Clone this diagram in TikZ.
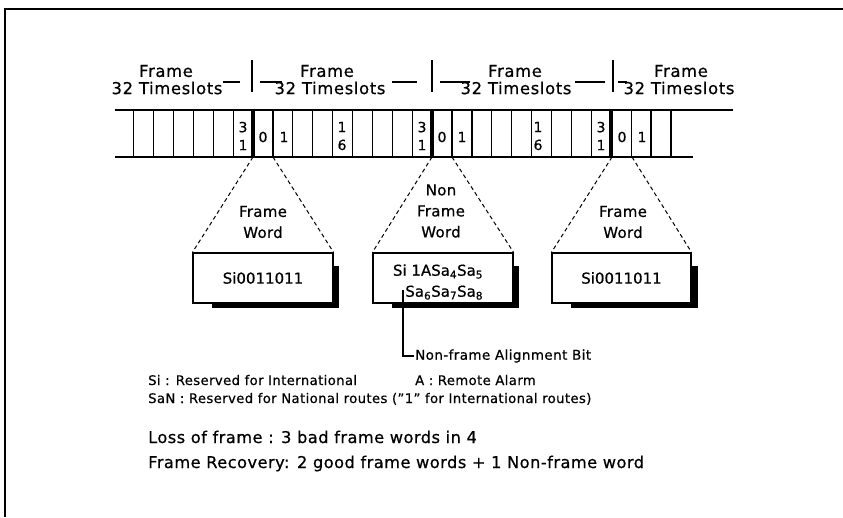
\documentclass[tikz,border=0pt]{standalone}
\usepackage{fontspec}
\setmainfont{DejaVu Sans}[FakeBold=0.6]
\usetikzlibrary{positioning,calc}

\begin{document}
\begin{tikzpicture}[x=1pt,y=-1pt,
  toplbl/.style={font=\fontsize{16.4}{17}\selectfont\addfontfeature{LetterSpace=4},inner sep=0pt},
  cellnum/.style={font=\fontsize{14}{18}\selectfont,inner sep=0pt,align=center},
  wordlbl/.style={font=\fontsize{15}{21}\selectfont\addfontfeature{LetterSpace=2},inner sep=0pt,align=center},
  wordbox/.style={draw,line width=1.2pt,fill=white,minimum width=140pt,
                  minimum height=50pt,font=\fontsize{15}{21}\selectfont},
  zoomline/.style={line width=1pt,dash pattern=on 4pt off 3pt},
  legend/.style={font=\fontsize{13.2}{13}\selectfont\addfontfeature{LetterSpace=3},anchor=base west,inner sep=0pt},
  rulelbl/.style={font=\fontsize{16.2}{16}\selectfont\addfontfeature{LetterSpace=3},anchor=base west,inner sep=0pt}]

  \useasboundingbox (0,0) rectangle (843,517);

  % ---- Page border ---------------------------------------------
  \draw[line width=1.5pt] (5,517) -- (5,9) -- (843,9);

  % ---- Frame labels --------------------------------------------
  \node[toplbl] (fa) at (166,71) {Frame};
  \node[toplbl] (ta) at (167,88) {32 Timeslots};
  \node[toplbl] (fb) at (327,71) {Frame};
  \node[toplbl] (tb) at (330,88) {32 Timeslots};
  \node[toplbl] (fc) at (515,71) {Frame};
  \node[toplbl] (tc) at (516,88) {32 Timeslots};
  \node[toplbl] (fd) at (681,71) {Frame};
  \node[toplbl] (td) at (679,88) {32 Timeslots};
  % frame boundaries
  \foreach \x in {252,432,613}
    \draw[line width=1.5pt] (\x,60) -- (\x,92);
  \foreach \a/\b in {223/240,260/282,392/417,440/470,575/605,618/627}
    \draw[line width=1.2pt] (\a,82) -- (\b,82);

  % ---- Timeslot strip ------------------------------------------
  \draw[line width=1.2pt] (115,110) -- (733,110);
  \draw[line width=1.2pt] (115,157) -- (693,157);
  \foreach \i in {-6,...,21}
    \draw[line width=1.2pt] ({253+\i*19.9},110) -- ({253+\i*19.9},157);
  \foreach \i in {0,9,18}
    \draw[line width=3.5pt] ({253+\i*19.9},110) -- ({253+\i*19.9},157);

  % slot numbers
  \foreach \x in {243,422,601}
    \node[cellnum] at (\x,136) {3\\1};
  \foreach \x in {263,442,622}
    \node[cellnum] at (\x,137) {0};
  \foreach \x in {284,462,642}
    \node[cellnum] at (\x,137) {1};
  \foreach \x in {342,538}
    \node[cellnum] at (\x,136) {1\\6};

  % ---- Frame words ---------------------------------------------
  % shadows
  \foreach \x in {193,373,552}
    \fill (\x+19,266) rectangle (\x+146,308);

  \node[wordbox] (fw1) at (263,278) {Si0011011};
  \node[wordbox] (nfw) at (443,278) {};
  \node[font=\fontsize{15}{21}\selectfont,align=right,inner sep=0pt] (nfwt) at (438,282)
    {Si 1ASa\textsubscript{4}Sa\textsubscript{5}\\Sa\textsubscript{6}Sa\textsubscript{7}Sa\textsubscript{8}};
  \node[wordbox,minimum width=139pt] (fw2) at (621.5,278) {Si0011011};

  \node[wordlbl] (w1) at (263,222) {Frame\\Word};
  \node[wordlbl] (w2) at (441,211) {Non\\Frame\\Word};
  \node[wordlbl] (w3) at (623,222) {Frame\\Word};

  % zoom lines from the strip
  \coordinate (a1) at (253,157);   \coordinate (b1) at (273,157);
  \coordinate (a2) at (432,157);   \coordinate (b2) at (452,157);
  \coordinate (a3) at (612,157);   \coordinate (b3) at (632,157);
  \draw[zoomline] (a1) -- (fw1.north west);
  \draw[zoomline] (b1) -- (fw1.north east);
  \draw[zoomline] (a2) -- (nfw.north west);
  \draw[zoomline] (b2) -- (nfw.north east);
  \draw[zoomline] (a3) -- (fw2.north west);
  \draw[zoomline] (b3) -- (fw2.north east);

  % alignment bit pointer
  \coordinate (nab) at (403,290);
  \node[font=\fontsize{13.5}{13}\selectfont\addfontfeature{LetterSpace=3},anchor=west,inner sep=1pt] (nabl) at (414,356)
    {Non-frame Alignment Bit};
  \draw[line width=1.2pt] (nab) |- (nabl.west);

  % ---- Legend --------------------------------------------------
  \node[legend] (lsi) at (148,385) {Si : Reserved for International};
  \node[legend] (la) at (415,385) {A : Remote Alarm};
  \node[legend] (lsa) at (148,403) {SaN : Reserved for National routes ("1" for International routes)};

  \node[rulelbl] (loss) at (148,443) {Loss of frame : 3 bad frame words in 4};
  \node[rulelbl] (rec) at (148,468) {Frame Recovery: 2 good frame words + 1 Non-frame word};

\end{tikzpicture}
\end{document}
